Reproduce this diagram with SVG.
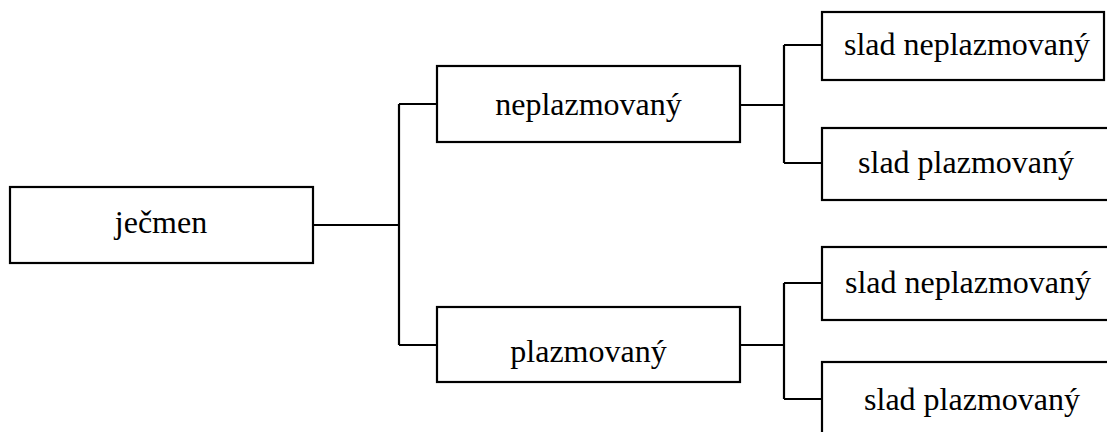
<svg xmlns="http://www.w3.org/2000/svg" width="1107" height="432" viewBox="0 0 1107 432">
<style>
.box{fill:#fff;stroke:#000;stroke-width:2.2}
.lbl{font-family:"Liberation Serif","Times New Roman",serif;font-size:32px;fill:#000;text-anchor:middle}
.conn{fill:none;stroke:#000;stroke-width:2.2}
</style>
<rect width="1107" height="432" fill="#fff"/>
<g id="connectors">
<path class="conn" d="M313 225H399M399 104V345M399 104H437M399 345H437"/>
<path class="conn" d="M740 105H784M784 45V163M784 45H822M784 163H822"/>
<path class="conn" d="M740 345H784M784 283V399M784 283H822M784 399H822"/>
</g>
<g id="n-jecmen"><rect class="box" x="10" y="187" width="303" height="76"/><text class="lbl" x="161" y="233">ječmen</text></g>
<g id="n-neplaz"><rect class="box" x="437" y="66" width="303" height="76"/><text class="lbl" x="588.5" y="115">neplazmovaný</text></g>
<g id="n-plaz"><rect class="box" x="437" y="307" width="303" height="75"/><text class="lbl" x="588.5" y="362">plazmovaný</text></g>
<g id="n-s1"><rect class="box" x="822" y="12" width="282" height="68"/><text class="lbl" x="967" y="55">slad neplazmovaný</text></g>
<g id="n-s2"><rect class="box" x="822" y="128" width="300" height="72"/><text class="lbl" x="966" y="173">slad plazmovaný</text></g>
<g id="n-s3"><rect class="box" x="822" y="247" width="300" height="73"/><text class="lbl" x="968" y="293">slad neplazmovaný</text></g>
<g id="n-s4"><rect class="box" x="822" y="362" width="300" height="80"/><text class="lbl" x="972" y="410">slad plazmovaný</text></g>
</svg>
